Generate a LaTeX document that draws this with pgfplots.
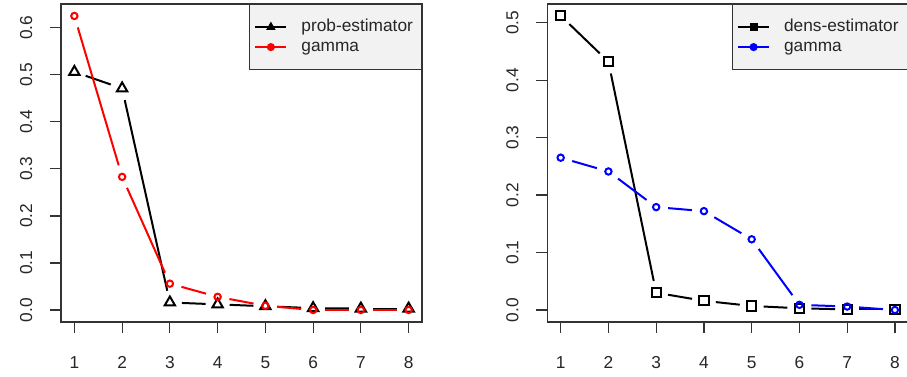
\documentclass[border=0pt]{standalone}
\usepackage{pgfplots}
\usepackage{pgfplotstable}
\usepackage{fontspec}
\setmainfont{Liberation Sans}
\pgfplotsset{compat=1.18}

\pgfplotstableread{
x prob gammaL
1 0.506 0.625
2 0.471 0.283
3 0.016 0.056
4 0.012 0.028
5 0.008 0.009
6 0.004 0.000
7 0.003 0.000
8 0.003 0.000
}\leftdata

\pgfplotstableread{
x dens gammaR
1 0.512 0.265
2 0.432 0.241
3 0.030 0.179
4 0.016 0.172
5 0.007 0.123
6 0.003 0.009
7 0.001 0.006
8 0.001 0.000
}\rightdata

\definecolor{legfill}{HTML}{F2F2F2}
\newcommand\fs{\fontsize{17.3}{20}\selectfont}

% R type="b": line segments with gaps around the points
\newcommand\segs[3]{%
  \pgfplotsinvokeforeach{0,...,6}{%
    \addplot[#1, forget plot, line width=2pt, shorten <=12pt, shorten >=12pt,
      x filter/.expression={abs(\coordindex-##1-0.5)<0.6 ? x : nan}]
      table[x=x, y=#3]{#2};
  }%
}

\pgfplotsset{
  rstyle/.style={
    scale only axis, width=361pt, height=318pt,
    xmin=0.72, xmax=8.28, xtick={1,...,8},
    axis line style={line width=1.2pt, black!80},
    tick style={line width=1.2pt, black!80},
    tick align=outside, xtick pos=left, ytick pos=left,
    major tick length=11pt,
    /pgf/number format/assume math mode=true,
    tick label style={font=\fs, text=black!85, inner sep=0pt},
    xticklabel style={anchor=base, yshift=-35pt},
    yticklabel style={xshift=-18pt, rotate=90, anchor=base,
      /pgf/number format/.cd, fixed, fixed zerofill, precision=1},
    scaled y ticks=false,
    legend image code/.code={%
      \draw[mark repeat=2, mark phase=2, ##1] plot coordinates {(0pt,0pt) (15.5pt,0pt) (31pt,0pt)};},
    legend style={at={(rel axis cs:1,1)}, anchor=north east,
      fill=legfill, draw=black!80, line width=1.2pt,
      inner xsep=5pt, inner ysep=14.5pt, row sep=4pt, column sep=14pt,
      font=\fs, text=black!85,
      nodes={inner sep=0pt, text height=12.5pt, text depth=3.5pt, align=left}},
    legend cell align=left,
  }
}

\begin{document}
\begin{tikzpicture}
\useasboundingbox (0,0) rectangle (907pt,-376pt);

% Left panel
\begin{axis}[rstyle, at={(61pt,-322pt)}, anchor=south west,
  ymin=-0.0255, ymax=0.6504, ytick={0,0.1,...,0.6},
  legend style={nodes={text width=115pt}}]
  \addlegendimage{black, line width=2pt, mark=triangle*, mark size=3.5pt}
  \addlegendentry{prob-estimator}
  \addlegendimage{red, line width=2pt, mark=*, mark size=3pt}
  \addlegendentry{gamma}
  \segs{black}{\leftdata}{prob}
  \addplot[only marks, forget plot, black, mark=triangle, mark size=6pt, mark options={line width=2pt}] table[x=x, y=prob]{\leftdata};
  \segs{red}{\leftdata}{gammaL}
  \addplot[only marks, forget plot, red, mark=o, mark size=3.2pt, mark options={line width=2pt}] table[x=x, y=gammaL]{\leftdata};
\end{axis}

% Right panel
\begin{axis}[rstyle, at={(547.3pt,-322pt)}, anchor=south west,
  ymin=-0.0209, ymax=0.5324, ytick={0,0.1,...,0.5},
  legend style={nodes={text width=118.6pt}}]
  \addlegendimage{black, line width=2pt, mark=square*, mark size=3pt}
  \addlegendentry{dens-estimator}
  \addlegendimage{blue, line width=2pt, mark=*, mark size=3pt}
  \addlegendentry{gamma}
  \segs{black}{\rightdata}{dens}
  \addplot[only marks, forget plot, black, mark=square, mark size=4.6pt, mark options={line width=2pt}] table[x=x, y=dens]{\rightdata};
  \segs{blue}{\rightdata}{gammaR}
  \addplot[only marks, forget plot, blue, mark=o, mark size=3.2pt, mark options={line width=2pt}] table[x=x, y=gammaR]{\rightdata};
\end{axis}
\end{tikzpicture}
\end{document}
